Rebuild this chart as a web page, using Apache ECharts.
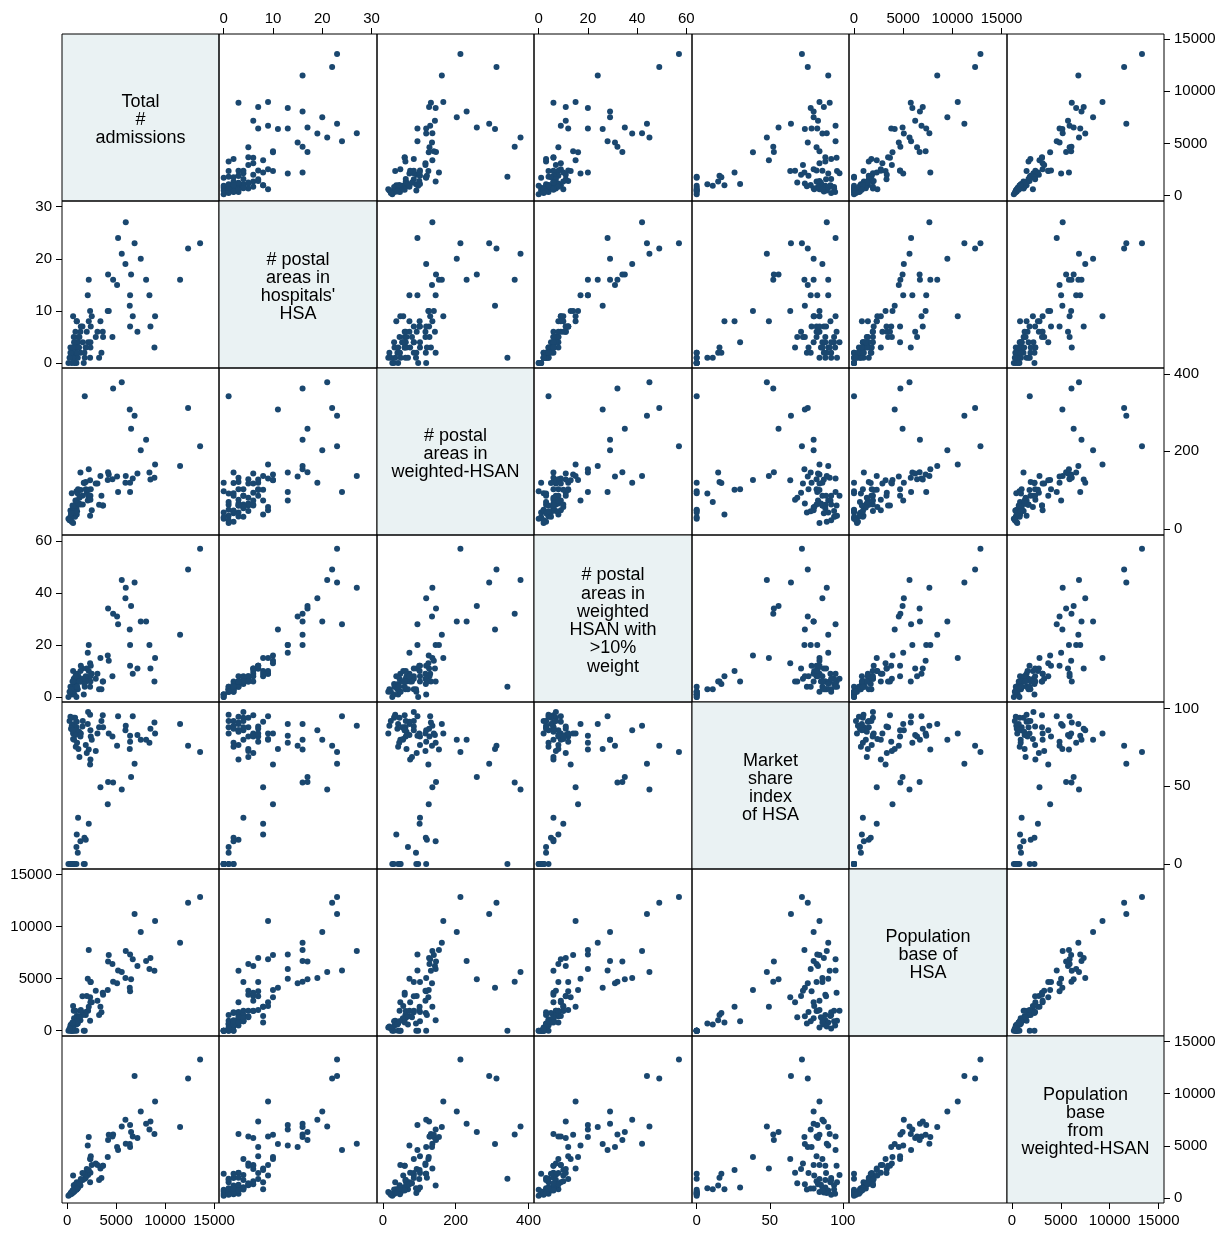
<!DOCTYPE html>
<html><head><meta charset="utf-8">
<script src="https://cdn.jsdelivr.net/npm/echarts@6/dist/echarts.min.js"></script>
<style>html,body{margin:0;padding:0;background:#fff}#c{width:1226px;height:1235px}</style>
</head><body><div id="c"></div>
<script>
// Variable labels (diagonal)
const varLabels = [
  'Total\n#\nadmissions',
  "# postal\nareas in\nhospitals'\nHSA",
  '# postal\nareas in\nweighted-HSAN',
  '# postal\nareas in\nweighted\nHSAN with\n>10%\nweight',
  'Market\nshare\nindex\nof HSA',
  'Population\nbase of\nHSA',
  'Population\nbase\nfrom\nweighted-HSAN'
];

// Data (one value per hospital, same order in every array)
const admissions = [13571,12346,11530,8979,8911,8503,8401,8061,7516,7176,
 6887,6700,6530,6428,6428,6394,5986,5952,5578,5203,
 5101,4694,4625,4183,4149,4251,2211,2109,2347,2517,
 3401,2415,2007,3095,3640,2925,3673,2143,2381,1905,
 2381,3503,2347,3265,1803,1700,136,476,748,952,
 340,612,476,1088,952,1360,1905,1769,986,2211,
 1122,612,986,680,1156,816,952,340,748,986,
 476,884,612,1565,1360,1600,400,250,1224,850,
 714,1258,1020,550,1400];
const postalHSA = [23,22,16,9,3,7,13,16,20,6,
 23,9,17,7,13,11,27,19,21,24,
 15,16,5,17,10,10,16,13,10,9,
 8,7,6,6,6,5,5,4,4,3,
 3,2,1,1,1,0,0,0,0,0,
 2,1,2,1,1,2,3,2,8,8,
 4,9,8,5,5,4,4,3,3,3,
 2,2,1,7,6,4,2,1,3,6,
 4,5,2,3,7];
const postalHSAN = [213,312,162,166,132,127,145,230,203,143,
 292,130,258,119,95,308,136,119,378,95,
 135,362,128,146,126,140,154,73,125,48,
 136,102,93,117,60,117,60,85,85,102,
 75,85,34,62,342,119,26,30,42,97,
 47,49,92,91,69,145,121,118,37,101,
 102,56,73,46,65,31,53,32,42,60,
 18,42,15,85,63,63,40,22,65,73,
 55,80,45,60,100];
const postalHSAN10 = [57,49,24,15,6,11,20,29,29,11,
 44,9,35,12,20,26,42,38,45,28,
 31,32,8,34,16,14,20,17,13,9,
 15,12,11,9,6,7,6,7,8,8,
 6,3,4,3,4,1,0,1,1,0,
 2,2,2,3,3,6,6,5,8,10,
 6,10,9,7,8,5,6,4,5,4,
 3,4,2,11,10,7,3,2,6,8,
 6,6,4,6,12];
const marketShare = [72,76,90,84,91,87,78,80,80,83,
 64.5,95,56,78.6,82.5,74,89,86,48,95,
 76,52.4,82,52.8,38.5,84,73.7,90,64,80,
 49.4,82,71.4,84,95.7,72.7,88,97.7,86,76.5,
 67.3,92,96,88,0,0,0,0,0,0,
 0,0,0,7.3,11,14.7,15.6,16.9,19,25.9,
 29.7,80.4,91.5,94,74,94,88,94.7,90,86,
 89,75.4,84,88.5,82,92,87,92,85,83,
 80,68.8,78,86,84];
const popHSA = [12852,12307,8461,10544,5769,6987,5929,6698,9487,6218,
 11218,6859,4936,3782,7339,4135,7660,5064,5641,5801,
 4551,4711,6410,6666,3910,7276,7756,5000,3205,2724,
 2308,4680,3333,2885,3654,3846,3461,1923,4680,1800,
 2724,1763,962,1500,0,0,0,0,0,0,
 0,0,0,700,600,1000,1500,1700,800,2308,
 900,2372,1410,1923,1400,900,1000,500,800,1100,
 400,700,300,3301,1900,1500,600,200,1300,1923,
 1200,1300,900,800,2000];
const popHSAN = [13300,11474,6795,9262,6122,7340,6570,7115,8301,5737,
 11698,5897,6314,4872,6987,5160,5192,7500,6859,4583,
 4872,6090,5900,5545,3910,6058,5833,5032,3718,3141,
 2820,4000,2756,3141,3077,3300,3077,2200,3718,2372,
 2400,1891,1500,1700,1827,2308,200,400,600,770,
 350,500,450,929,833,1186,1923,2308,833,2660,
 994,2147,1500,1200,1300,800,1000,400,700,1000,
 450,800,550,2372,1600,1700,500,300,1250,1300,
 900,1400,900,700,1800];

// Tick labels
const ticksPop = [0,5000,10000,15000];
const ticksHSA = [0,10,20,30];
const ticksHSAN = [0,200,400];
const ticksHSAN10 = [0,20,40,60];
const ticksShare = [0,50,100];

const vars = [admissions, postalHSA, postalHSAN, postalHSAN10, marketShare, popHSA, popHSAN];
const ticks = [ticksPop, ticksHSA, ticksHSAN, ticksHSAN10, ticksShare, ticksPop, ticksPop];
const ranges = [[-520,15500],[-0.95,31.1],[-16,415],[-1.9,62.3],[-3.2,104.2],[-510,15550],[-500,15550]];

const colX = [62,219,377,534,692,849,1007,1164];
const rowY = [34,201,368,535,702,869,1036,1203];
const FONT = "'Liberation Sans', Arial, Helvetica, sans-serif";
const N = 7;
const fmt = v => String(v);

const grid = [], xAxis = [], yAxis = [], series = [], graphic = [];
let k = 0;
for (let r = 0; r < N; r++) {
  for (let c = 0; c < N; c++) {
    const diag = r === c;
    grid.push({
      left: colX[c], top: rowY[r],
      width: colX[c+1] - colX[c], height: rowY[r+1] - rowY[r],
      show: true, borderColor: '#000', borderWidth: 1,
      backgroundColor: diag ? '#eaf2f3' : 'transparent',
      containLabel: false
    });
    const showX = (r === 0 && c % 2 === 1) || (r === N-1 && c % 2 === 0);
    const showY = (c === 0 && r % 2 === 1) || (c === N-1 && r % 2 === 0);
    xAxis.push({
      gridIndex: k, type: 'value', min: ranges[c][0], max: ranges[c][1],
      position: r === 0 ? 'top' : 'bottom',
      axisLine: {show: false, onZero: false}, splitLine: {show: false},
      axisTick: {show: showX, length: 6, lineStyle: {color: '#000', width: 1}, customValues: ticks[c]},
      axisLabel: {show: showX, customValues: ticks[c], formatter: fmt, color: '#000', fontSize: 15, fontFamily: FONT, margin: r === 0 ? 8 : 10}
    });
    yAxis.push({
      gridIndex: k, type: 'value', min: ranges[r][0], max: ranges[r][1],
      position: c === N-1 ? 'right' : 'left',
      axisLine: {show: false, onZero: false}, splitLine: {show: false},
      axisTick: {show: showY, length: 6, lineStyle: {color: '#000', width: 1}, customValues: ticks[r]},
      axisLabel: {show: showY, customValues: ticks[r], formatter: fmt, color: '#000', fontSize: 15, fontFamily: FONT, margin: 10}
    });
    if (diag) {
      graphic.push({
        type: 'text',
        x: (colX[c] + colX[c+1]) / 2,
        y: (rowY[r] + rowY[r+1]) / 2 + 2.5,
        style: {
          text: varLabels[r], align: 'center', verticalAlign: 'middle',
          fontSize: 18, lineHeight: 18.3, fontFamily: FONT, fill: '#000'
        }
      });
    } else {
      const xs = vars[c], ys = vars[r];
      series.push({
        type: 'scatter', xAxisIndex: k, yAxisIndex: k,
        symbol: 'circle', symbolSize: 6,
        itemStyle: {color: '#1a476f', opacity: 1},
        data: xs.map((v, i) => [v, ys[i]]),
        silent: true
      });
    }
    k++;
  }
}

const chart = echarts.init(document.getElementById('c'), null, {renderer: 'canvas'});
chart.setOption({
  animation: false,
  backgroundColor: '#fff',
  grid, xAxis, yAxis, series, graphic
});
</script>
</body></html>
